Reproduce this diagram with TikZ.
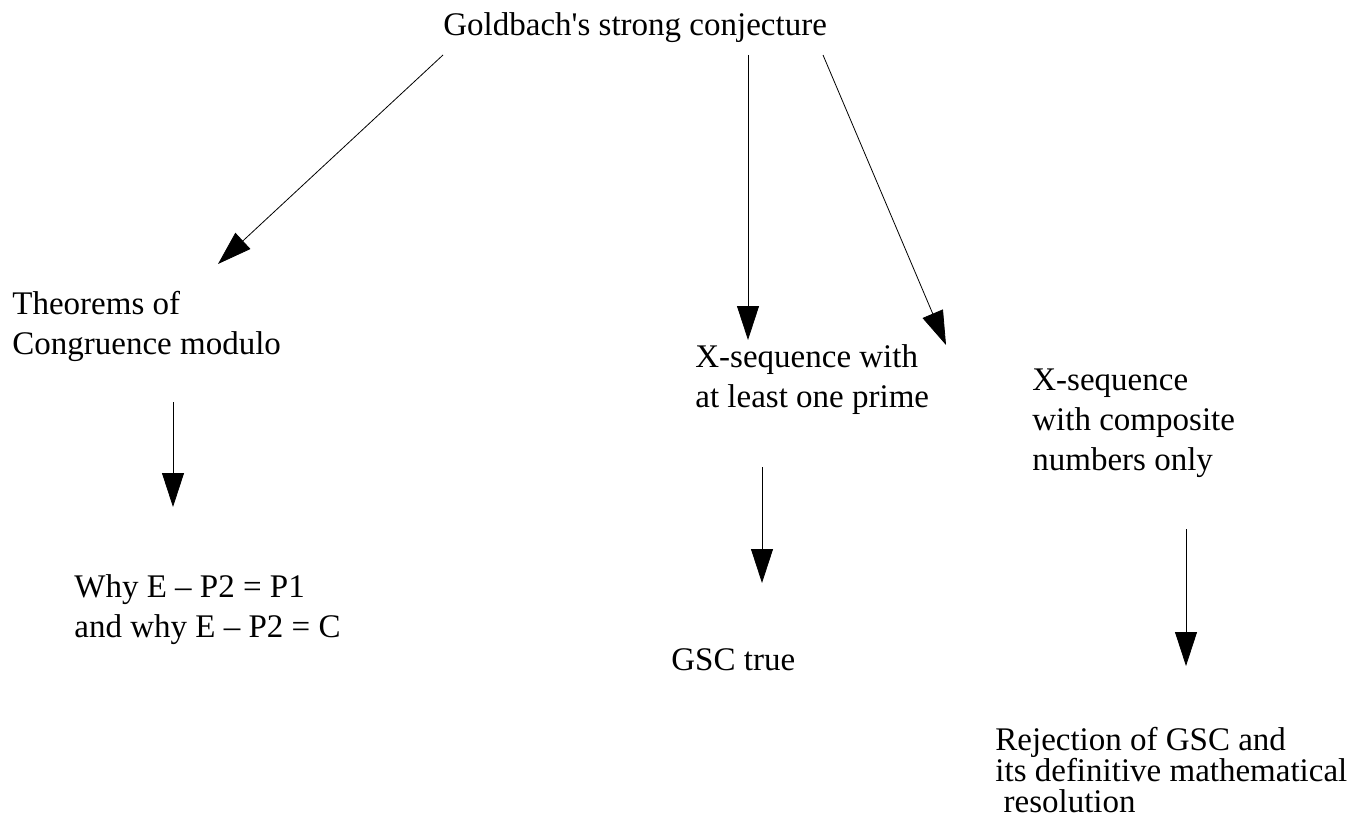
\documentclass[tikz,border=0pt]{standalone}
\usepackage{fontspec}
\setmainfont{Liberation Serif}
\usetikzlibrary{arrows.meta}
\usetikzlibrary{positioning}

\begin{document}
\begin{tikzpicture}[x=1pt,y=-1pt,>={Triangle[length=34pt,width=22pt]},
   txt/.style={anchor=base west,inner sep=0pt,align=left,font=\fontsize{33}{40}\selectfont},
   line width=0.8pt]
   \useasboundingbox (0,0) rectangle (1370,821);
   \node[txt] (gsc) at (443,36) {Goldbach\textquotesingle s strong conjecture};
   \node[txt] (theo) at (12,354) {Theorems of\\Congruence modulo};
   \node[txt] (why) at (74,637) {Why E – P2 = P1\\and why E – P2 = C};
   \node[txt] (prime) at (695,407) {X-sequence with\\at least one prime};
   \node[txt] (true) at (671,670) {GSC true};
   \node[txt] (comp) at (1032,470) {X-sequence\\with composite\\numbers only};
   \node[txt,font=\fontsize{33}{31}\selectfont] (rej) at (995,812) {Rejection of GSC and\\its definitive mathematical\\\hspace{0.25em}resolution};
   \draw[->] ([shift={(0,19)}]gsc.base west) -- ([shift={(206,-90)}]theo.base west);
   \draw[->] ([shift={(305,19)}]gsc.base west) -- ([shift={(53,-67)}]prime.base west);
   \draw[->] ([shift={(380,19)}]gsc.base west) -- ([shift={(-86,-125)}]comp.base west);
   \draw[->] ([shift={(161,48)}]theo.base west) -- ([shift={(99,-130)}]why.base west);
   \draw[->] ([shift={(67,60)}]prime.base west) -- ([shift={(91,-87)}]true.base west);
   \draw[->] ([shift={(154,59)}]comp.base west) -- ([shift={(191,-146)}]rej.base west);
\end{tikzpicture}
\end{document}
